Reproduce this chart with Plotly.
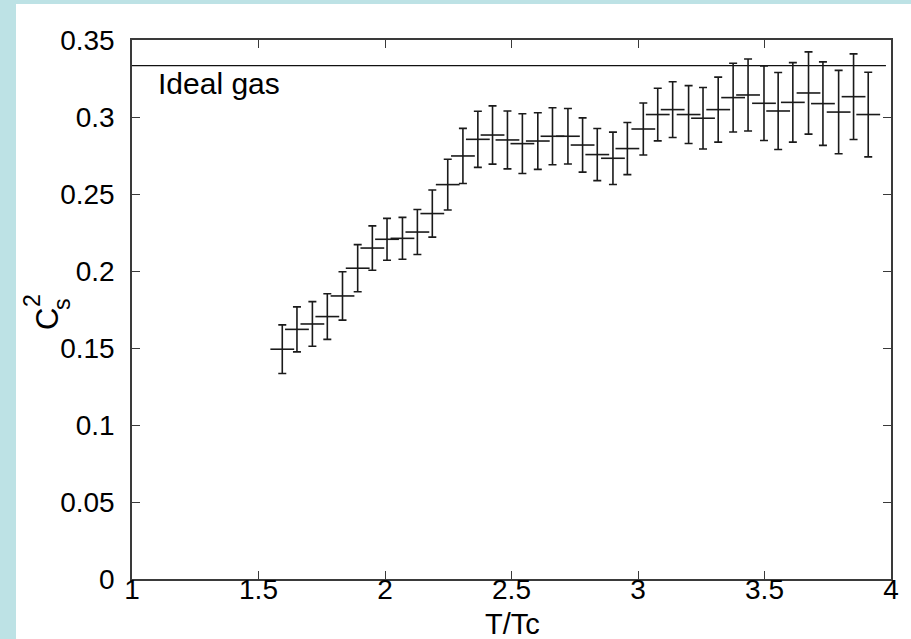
import plotly.graph_objects as go

# Squared speed of sound vs reduced temperature, with statistical errors
t_over_tc = [1.594, 1.652, 1.713, 1.772, 1.832, 1.892, 1.950, 2.008, 2.069, 2.128,
             2.187, 2.248, 2.308, 2.367, 2.425, 2.484, 2.543, 2.604, 2.662, 2.723,
             2.781, 2.839, 2.901, 2.958, 3.021, 3.078, 3.137, 3.200, 3.257, 3.317,
             3.376, 3.435, 3.498, 3.554, 3.612, 3.674, 3.731, 3.793, 3.852, 3.910]
cs2 = [0.1492, 0.1621, 0.1656, 0.1704, 0.1838, 0.2018, 0.2149, 0.2206, 0.2212, 0.2253,
       0.2373, 0.2561, 0.2747, 0.2855, 0.2883, 0.2851, 0.2827, 0.2844, 0.2875, 0.2875,
       0.2818, 0.2756, 0.2732, 0.2795, 0.2922, 0.3016, 0.3048, 0.3016, 0.2992, 0.3048,
       0.3126, 0.3143, 0.3089, 0.3039, 0.3095, 0.3156, 0.3087, 0.3032, 0.3132, 0.3016]
cs2_err = [0.0158, 0.0146, 0.0145, 0.0148, 0.0157, 0.0153, 0.0144, 0.0136, 0.0136, 0.0146,
           0.0153, 0.0165, 0.0179, 0.0182, 0.0189, 0.0188, 0.0194, 0.0184, 0.0185, 0.0180,
           0.0176, 0.0169, 0.0170, 0.0169, 0.0169, 0.0171, 0.0181, 0.0188, 0.0200, 0.0211,
           0.0223, 0.0234, 0.0242, 0.0250, 0.0258, 0.0267, 0.0271, 0.0271, 0.0278, 0.0275]

# Conformal (ideal gas) limit c_s^2 = 1/3
ideal_x = [1.0, 3.98]
ideal_y = [1 / 3, 1 / 3]

x_ticks = [1, 1.5, 2, 2.5, 3, 3.5, 4]
x_ticktext = ["1", "1.5", "2", "2.5", "3", "3.5", "4"]
y_ticks = [0, 0.05, 0.1, 0.15, 0.2, 0.25, 0.3, 0.35]
y_ticktext = ["0", "0.05", "0.1", "0.15", "0.2", "0.25", "0.3", "0.35"]

FONT = "Liberation Sans, Arial, Helvetica, sans-serif"
INK = "#1a1a1a"
FRAME = "#3a3a3a"
BAND = "#bde2e5"

W, H = 911, 639
L, R, T, B = 132, 20, 40, 60
pw, ph = W - L - R, H - T - B


def px_to_paper(px, py):
    return (px - L) / pw, (H - B - py) / ph


fig = go.Figure()

fig.add_trace(go.Scatter(
    x=ideal_x, y=ideal_y, mode="lines",
    line=dict(color="#111111", width=1.3),
    hoverinfo="skip", showlegend=False,
))

fig.add_trace(go.Scatter(
    x=t_over_tc, y=cs2, mode="markers",
    marker=dict(symbol="line-ew", size=17, line=dict(width=1.6, color=INK)),
    error_y=dict(type="data", array=cs2_err, visible=True,
                 thickness=1.6, width=4, color=INK),
    showlegend=False,
))

# slide-style coloured bands on the left and top edges
x0, y0 = px_to_paper(0, H)
x1, y1 = px_to_paper(16, 0)
x2, y2 = px_to_paper(W, 4)
shapes = [
    dict(type="rect", xref="paper", yref="paper", x0=x0, x1=x1, y0=y0, y1=y1,
         fillcolor=BAND, line=dict(width=0), layer="below"),
    dict(type="rect", xref="paper", yref="paper", x0=x0, x1=px_to_paper(W, 0)[0],
         y0=y2, y1=y1, fillcolor=BAND, line=dict(width=0), layer="below"),
]

ann = []
ann.append(dict(x=1.093, y=0.322, xref="x", yref="y", text="Ideal gas",
                showarrow=False, xanchor="left", yanchor="middle",
                font=dict(family=FONT, size=30, color="black")))
xt, yt = px_to_paper(512, 624)
ann.append(dict(x=xt, y=yt, xref="paper", yref="paper", text="T/Tc",
                showarrow=False, xanchor="center", yanchor="middle",
                font=dict(family=FONT, size=29, color="black")))
# stacked c_s^2 label, rotated
for txt, (cx, cy), size in [("C", (47, 319), 31), ("2", (32, 301), 23), ("s", (62, 304), 23)]:
    ax_, ay_ = px_to_paper(cx, cy)
    ann.append(dict(x=ax_, y=ay_, xref="paper", yref="paper", text=txt,
                    showarrow=False, textangle=-90, xanchor="center", yanchor="middle",
                    font=dict(family=FONT, size=size, color="black")))

axis_common = dict(
    showline=True, linecolor=FRAME, linewidth=1.5, mirror="ticks",
    ticks="inside", ticklen=8, tickwidth=1.2, tickcolor=FRAME,
    showgrid=False, zeroline=False,
    tickfont=dict(family=FONT, size=28, color="black"),
)

fig.update_layout(
    width=W, height=H, autosize=False,
    margin=dict(l=L, r=R, t=T, b=B, pad=0),
    paper_bgcolor="white", plot_bgcolor="white",
    shapes=shapes, annotations=ann,
    xaxis=dict(range=[1, 4], tickvals=x_ticks, ticktext=x_ticktext,
               ticklabelstandoff=-15, **axis_common),
    yaxis=dict(range=[0, 0.35], tickvals=y_ticks, ticktext=y_ticktext,
               ticklabelstandoff=10, **axis_common),
)

fig.write_html("out.html")
